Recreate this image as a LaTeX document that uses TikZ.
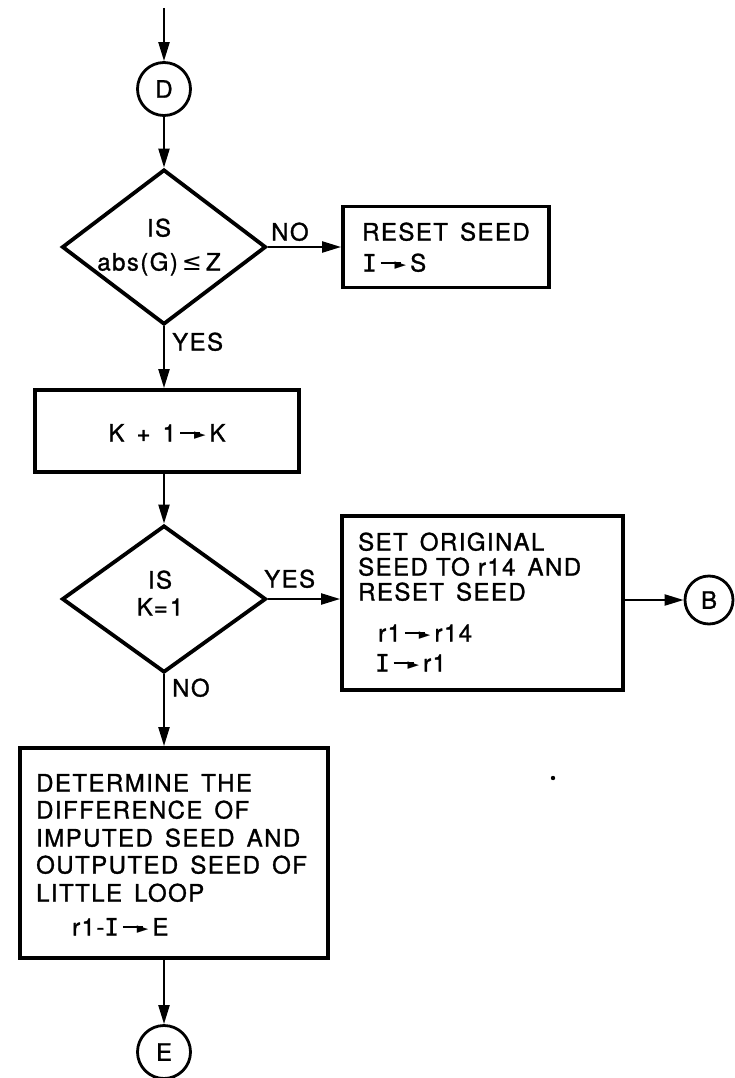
\documentclass[tikz,border=0pt]{standalone}
\usepackage{fontspec}
\setmainfont{TeX Gyre Heros}[LetterSpace=6.0,FakeBold=1.2]
\newfontfamily\dejavu{DejaVu Sans}
\newfontfamily\monoI{DejaVu Sans Mono}[FakeBold=1.2]
\usetikzlibrary{shapes.geometric,arrows.meta}
\newcommand{\Ibar}{{\monoI I}}
\newcommand{\toarr}{\kern4pt\rule[7.6pt]{20pt}{2pt}\kern-6pt\raisebox{2pt}{\dejavu\fontsize{15}{15}\selectfont ►}\kern4pt}
\begin{document}
\begin{tikzpicture}[x=1pt,y=-1pt,
  shapeline/.style={draw,line width=3.8pt},
  boxnode/.style={shapeline,rectangle,inner sep=0pt},
  dia/.style={shapeline,diamond,inner sep=0pt,minimum width=204pt,minimum height=155pt},
  conn/.style={circle,draw,line width=2.8pt,inner sep=0pt,minimum size=53pt,font=\fontsize{24}{28}\selectfont},
  flow/.style={line width=2.2pt,-{Triangle[length=19pt,width=11pt]}},
  txt/.style={inner sep=0pt,anchor=west,font=\fontsize{24}{28}\selectfont,text height=17pt,text depth=0pt},
  ctxt/.style={txt,anchor=center}]
\useasboundingbox (0,0) rectangle (735,1078);
% shapes
\node[conn] (D) at (164,89) {D};
\node[dia] (d1) at (164,247) {};
\node[boxnode,minimum width=206pt,minimum height=81pt] (reset) at (446,247) {};
\node[boxnode,minimum width=264pt,minimum height=82pt] (kbox) at (167,431) {};
\node[dia,minimum height=147pt] (d2) at (164,599) {};
\node[boxnode,minimum width=281pt,minimum height=174pt] (setb) at (482.5,603) {};
\node[conn,minimum size=48pt] (B) at (709,600) {B};
\node[boxnode,minimum width=308pt,minimum height=210pt] (det) at (174,853) {};
\node[conn] (E) at (164,1052) {E};
% texts
\node[txt] (no1) at (271,232) {NO};
\node[txt] (yes1) at (172,342) {YES};
\node[ctxt] (is1) at (159,228) {IS};
\node[ctxt] (cond1) at (159,262) {abs(G)\,{\dejavu ≤}\,Z};
\node[txt] (rs1) at (362,232) {RESET\, SEED};
\node[txt] (rs2) at (362,263) {\Ibar\toarr S};
\node[ctxt] (kt) at (167,433) {K\, +\, 1\toarr K};
\node[ctxt] (is2) at (160,580) {IS};
\node[ctxt] (cond2) at (160,607) {K\kern1pt=\kern2pt1};
\node[txt] (yes2) at (264,579) {YES};
\node[txt] (no2) at (172,688) {NO};
\node[txt] (s1) at (358,542) {SET\, ORIGINAL};
\node[txt] (s2) at (358,567) {SEED TO r14\, AND};
\node[txt] (s3) at (358,592) {RESET\, SEED};
\node[txt] (s4) at (378,633) {r1\toarr r14};
\node[txt] (s5) at (375,663) {\Ibar\toarr r1};
\node[txt] (t1) at (36,783) {DETERMINE\, THE};
\node[txt] (t2) at (36,810) {DIFFERENCE\, OF};
\node[txt] (t3) at (36,838) {IMPUTED\, SEED\, AND};
\node[txt] (t4) at (36,865) {OUTPUTED\, SEED\, OF};
\node[txt] (t5) at (36,893) {LITTLE\, LOOP};
\node[txt] (t6) at (72,927) {r1-\Ibar\toarr E};
% connectors
\coordinate (top) at (164,8);
\draw[flow] (top) -- (D);
\draw[flow] (D) -- (d1.north);
\draw[flow] (d1.east) -- (reset.west);
\draw[flow] (d1.south) -- (d1.south |- kbox.north);
\draw[flow] (d2.north |- kbox.south) -- (d2.north);
\draw[flow] (d2.east) -- (d2.east -| setb.west);
\draw[flow] (setb.east |- B) -- (B);
\draw[flow] (d2.south) -- (d2.south |- det.north);
\draw[flow] (E |- det.south) -- (E);
\fill (553,778) circle (2.2);
\end{tikzpicture}
\end{document}
